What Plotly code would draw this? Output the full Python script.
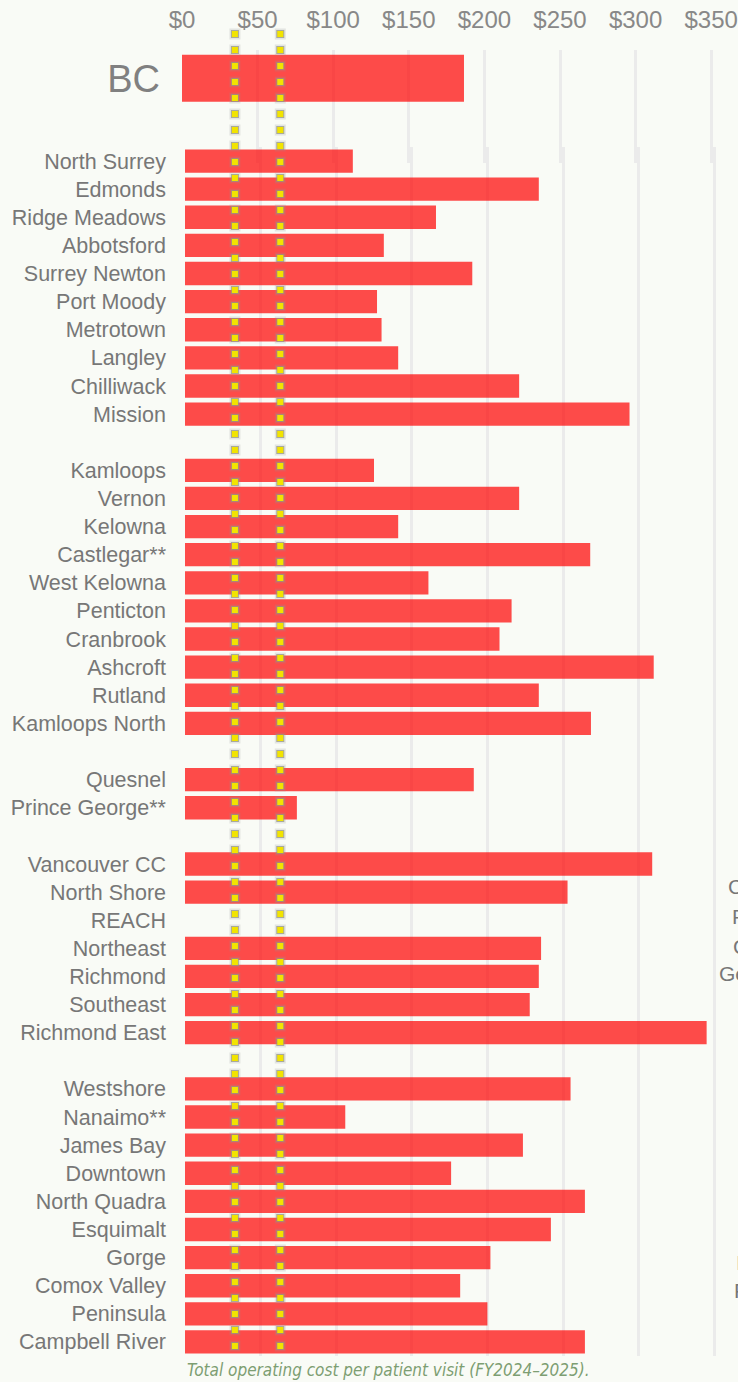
import plotly.graph_objects as go

W, H = 738, 1382

# ---------------- data ----------------
bc_label = ["BC"]
bc_cost = [186.5]

fraser_clinics = ["North Surrey", "Edmonds", "Ridge Meadows", "Abbotsford", "Surrey Newton",
                  "Port Moody", "Metrotown", "Langley", "Chilliwack", "Mission"]
fraser_costs = [111, 234, 166, 131.5, 190, 127, 130, 141, 221, 294]

interior_clinics = ["Kamloops", "Vernon", "Kelowna", "Castlegar**", "West Kelowna",
                    "Penticton", "Cranbrook", "Ashcroft", "Rutland", "Kamloops North"]
interior_costs = [125, 221, 141, 268, 161, 216, 208, 310, 234, 268.5]

northern_clinics = ["Quesnel", "Prince George**"]
northern_costs = [191, 74]

vch_clinics = ["Vancouver CC", "North Shore", "REACH", "Northeast", "Richmond",
               "Southeast", "Richmond East"]
vch_costs = [309, 253, None, 235.5, 234, 228, 345]

island_clinics = ["Westshore", "Nanaimo**", "James Bay", "Downtown", "North Quadra",
                  "Esquimalt", "Gorge", "Comox Valley", "Peninsula", "Campbell River"]
island_costs = [255, 106, 223.5, 176, 264.5, 242, 202, 182, 200, 264.5]

benchmarks = [35, 65]

x_tickvals = [0, 50, 100, 150, 200, 250, 300, 350]
x_ticktext = ["$0", "$50", "$100", "$150", "$200", "$250", "$300", "$350"]

caption = "Total operating cost per patient visit (FY2024\u20132025)."

# fragments of side text visible at the right edge
side_notes = ["C", "F", "C", "Ge", "I", "F"]

# ---------------- layout helpers ----------------
def px_x(p):
    return p / W

def px_y(p):
    return 1 - p / H

groups = [(fraser_clinics, fraser_costs), (interior_clinics, interior_costs),
          (northern_clinics, northern_costs), (vch_clinics, vch_costs),
          (island_clinics, island_costs)]

rows, names, costs = [], [], []
r = 0
for gi, (cl, co) in enumerate(groups):
    if gi > 0:
        r += 1
    for n, c in zip(cl, co):
        rows.append(r)
        names.append(n)
        costs.append(c)
        r += 1
n_rows = r

K = 1.512  # px per dollar
XMAX = 356
BAR_COLOR = "rgba(255,0,0,0.70)"
BG = "#f9fbf6"
GRID = "#ebebeb"
FONT = "Liberation Sans, Arial, sans-serif"

fig = go.Figure()

fig.add_trace(go.Bar(
    x=bc_cost, y=[0], orientation="h", width=0.83,
    marker=dict(color=BAR_COLOR, line=dict(width=0)),
    xaxis="x", yaxis="y", hoverinfo="skip", showlegend=False))

fig.add_trace(go.Bar(
    x=costs, y=rows, orientation="h", width=0.83,
    marker=dict(color=BAR_COLOR, line=dict(width=0)),
    xaxis="x2", yaxis="y2", hoverinfo="skip", showlegend=False))

fig.update_layout(
    width=W, height=H, autosize=False,
    margin=dict(l=0, r=0, t=0, b=0, pad=0),
    paper_bgcolor=BG, plot_bgcolor="rgba(0,0,0,0)",
    font=dict(family=FONT, color="#777777"),
    xaxis=dict(domain=[px_x(182), px_x(182 + XMAX * K)], range=[0, XMAX],
               side="top", tickvals=x_tickvals, ticktext=x_ticktext,
               showgrid=True, gridcolor=GRID, gridwidth=2.5, zeroline=False,
               showline=False, ticks="", ticklabelstandoff=16, automargin=False,
               tickfont=dict(family=FONT, size=24, color="#888888"),
               anchor="y", fixedrange=True),
    yaxis=dict(domain=[px_y(163), px_y(50)], range=[1.5, -0.5],
               tickvals=[0], ticktext=bc_label, showgrid=False, zeroline=False,
               ticks="", ticklabelstandoff=21, automargin=False,
               tickfont=dict(family=FONT, size=38, color="#808080"),
               anchor="x", fixedrange=True),
    xaxis2=dict(domain=[px_x(185), px_x(185 + XMAX * K)], range=[0, XMAX],
                tickvals=x_tickvals, showticklabels=False, automargin=False,
                showgrid=True, gridcolor=GRID, gridwidth=2.5, zeroline=False,
                showline=False, ticks="", anchor="y2", fixedrange=True),
    yaxis2=dict(domain=[px_y(1356), px_y(147)], range=[n_rows - 0.5, -0.5],
                tickvals=rows, ticktext=names, showgrid=False, zeroline=False,
                ticks="", ticklabelstandoff=18, automargin=False,
                tickfont=dict(family=FONT, size=21.5, color="#777777"),
                anchor="x2", fixedrange=True),
)

# benchmark dotted lines (drawn on BC scale, spanning full height)
for b in benchmarks:
    # soft glow
    fig.add_shape(type="line", xref="x", yref="paper", x0=b, x1=b,
                  y0=px_y(28.5), y1=px_y(1356),
                  line=dict(color="rgba(150,150,150,0.22)", width=11, dash="11px,5px"),
                  layer="above")
    # grey border
    fig.add_shape(type="line", xref="x", yref="paper", x0=b, x1=b,
                  y0=px_y(30), y1=px_y(1356),
                  line=dict(color="rgba(150,150,130,0.75)", width=8, dash="8px,8px"),
                  layer="above")
    # yellow square
    fig.add_shape(type="line", xref="x", yref="paper", x0=b, x1=b,
                  y0=px_y(31), y1=px_y(1356),
                  line=dict(color="#f2e400", width=6, dash="6px,10px"),
                  layer="above")

# caption
fig.add_annotation(text=caption, xref="paper", yref="paper",
                   x=px_x(185), y=px_y(1370), xanchor="left", yanchor="middle",
                   showarrow=False,
                   font=dict(family="Liberation Sans Narrow, DejaVu Sans Condensed, Roboto Condensed, Roboto",
                             size=17, color="#7d9e72", style="italic"))

# clipped side notes at the right edge
note_pos = [(727, 886), (731, 916), (732, 946), (718, 974), (735, 1262), (733, 1290)]
for t, (xp, yp) in zip(side_notes, note_pos):
    fig.add_annotation(text=t, xref="paper", yref="paper", x=px_x(xp), y=px_y(yp),
                       xanchor="left", yanchor="middle", showarrow=False,
                       borderpad=0,
                       font=dict(family=FONT, size=21, color="#777777"))

fig.write_html("out.html")
